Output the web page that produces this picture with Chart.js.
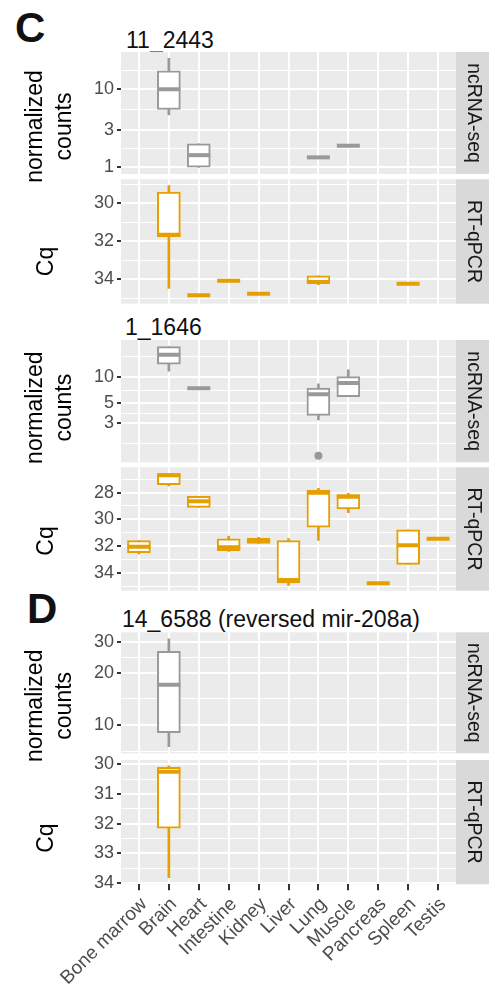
<!DOCTYPE html>
<html>
<head>
<meta charset="utf-8">
<script src="https://cdn.jsdelivr.net/npm/chart.js@4/dist/chart.umd.min.js"></script>
<style>
body { margin: 0; background: #fff; width: 489px; height: 984px; position: relative; overflow: hidden; font-family: "Liberation Sans", Arial, sans-serif; }
canvas { position: absolute; left: 0; }
.tag { position: absolute; font-weight: bold; font-size: 42px; line-height: 1; color: #111; }
.ttl { position: absolute; font-size: 23px; line-height: 1; color: #111; white-space: nowrap; }
</style>
</head>
<body>
<div class="tag" style="left:15px;top:7px">C</div>
<div class="tag" style="left:27px;top:588px">D</div>
<div class="ttl" style="left:126px;top:29px">11_2443</div>
<div class="ttl" style="left:125px;top:316px">1_1646</div>
<div class="ttl" style="left:122px;top:608px">14_6588 (reversed mir-208a)</div>
<canvas id="c1" width="489" height="166" style="top:30px"></canvas>
<canvas id="c2" width="489" height="169" style="top:157px"></canvas>
<canvas id="c3" width="489" height="166" style="top:318px"></canvas>
<canvas id="c4" width="489" height="168" style="top:445px"></canvas>
<canvas id="c5" width="489" height="165" style="top:610px"></canvas>
<canvas id="c6" width="489" height="246" style="top:738px"></canvas>
<script>
const tissues = ['Bone marrow', 'Brain', 'Heart', 'Intestine', 'Kidney', 'Liver',
                 'Lung', 'Muscle', 'Pancreas', 'Spleen', 'Testis'];

// 11_2443 ncRNA-seq
const p1Tissue = ['Brain', 'Heart', 'Lung', 'Muscle'];
const p1Min = [4.7, 1.0, 1.34, 1.89];
const p1Q1 = [5.5, 1.0, 1.34, 1.89];
const p1Med = [10, 1.43, 1.34, 1.89];
const p1Q3 = [17.2, 2.0, 1.34, 1.89];
const p1Max = [25, 2.0, 1.34, 1.89];
const p1Ticks = [1, 3, 10];
const p1Minor = [1.732, 5.477, 17.32];

// 11_2443 RT-qPCR
const p2Tissue = ['Brain', 'Heart', 'Intestine', 'Kidney', 'Lung', 'Spleen'];
const p2Min = [29.07, 34.86, 34.09, 34.77, 33.83, 34.25];
const p2Q1 = [29.41, 34.86, 34.09, 34.77, 33.83, 34.25];
const p2Med = [31.67, 34.86, 34.09, 34.77, 34.15, 34.25];
const p2Q3 = [31.77, 34.86, 34.09, 34.77, 34.18, 34.25];
const p2Max = [34.5, 34.86, 34.09, 34.77, 34.3, 34.25];
const p2Ticks = [30, 32, 34];
const p2Minor = [29, 31, 33, 35];

// 1_1646 ncRNA-seq
const p3Tissue = ['Brain', 'Heart', 'Lung', 'Muscle'];
const p3Min = [11.8, 7.5, 3.22, 5.97];
const p3Q1 = [14.2, 7.5, 3.65, 5.97];
const p3Med = [18.2, 7.5, 6.4, 8.6];
const p3Q3 = [22.6, 7.5, 7.5, 10.2];
const p3Max = [22.6, 7.5, 8.4, 12.2];
const p3OutTissue = ['Lung'];
const p3Out = [1.25];
const p3Ticks = [3, 5, 10];
const p3Minor = [1.732, 3.873, 7.071, 17.32];

// 1_1646 RT-qPCR
const p4Tissue = ['Bone marrow', 'Brain', 'Heart', 'Intestine', 'Kidney', 'Liver',
                  'Lung', 'Muscle', 'Pancreas', 'Spleen', 'Testis'];
const p4Min = [31.6, 26.57, 28.27, 31.25, 31.35, 31.45, 27.67, 28.05, 34.8, 30.78, 31.45];
const p4Q1 = [31.6, 26.57, 28.27, 31.47, 31.43, 31.6, 27.8, 28.15, 34.8, 30.78, 31.45];
const p4Med = [32.05, 26.7, 28.64, 32.1, 31.6, 34.55, 28.0, 28.3, 34.8, 31.95, 31.45];
const p4Q3 = [32.5, 27.4, 29.1, 32.35, 31.8, 34.77, 30.58, 29.22, 34.8, 33.38, 31.45];
const p4Max = [32.6, 27.5, 29.1, 32.4, 31.8, 34.95, 31.58, 29.5, 34.8, 33.38, 31.45];
const p4Ticks = [28, 30, 32, 34];
const p4Minor = [27, 29, 31, 33, 35];

// 14_6588 ncRNA-seq
const p5Tissue = ['Brain'];
const p5Min = [7.5];
const p5Q1 = [9.03];
const p5Med = [17.1];
const p5Q3 = [26.6];
const p5Max = [31.5];
const p5Ticks = [10, 20, 30];
const p5Minor = [7.071, 14.14, 24.49];

// 14_6588 RT-qPCR
const p6Tissue = ['Brain'];
const p6Min = [30.05];
const p6Q1 = [30.1];
const p6Med = [30.25];
const p6Q3 = [32.15];
const p6Max = [33.83];
const p6Ticks = [30, 31, 32, 33, 34];
const p6Minor = [30.5, 31.5, 32.5, 33.5];

const GREY = '#999999';
const ORANGE = '#E69F00';
const FONT = '"Liberation Sans", Arial, sans-serif';

// panel background, facet strip and y title
const decor = {
  id: 'decor',
  beforeDraw(chart, args, o) {
    const {ctx, chartArea: a} = chart;
    ctx.save();
    ctx.fillStyle = '#EBEBEB';
    ctx.fillRect(a.left, a.top, a.width, a.height);
    ctx.restore();
  },
  afterDraw(chart, args, o) {
    const {ctx, chartArea: a} = chart;
    const mid = (a.top + a.bottom) / 2;
    ctx.save();
    ctx.fillStyle = '#D9D9D9';
    ctx.fillRect(a.right, a.top, chart.width - a.right, a.height);
    ctx.fillStyle = '#1A1A1A';
    ctx.font = '19.5px ' + FONT;
    ctx.textAlign = 'center';
    ctx.textBaseline = 'middle';
    ctx.translate(a.right + 17, mid);
    ctx.rotate(Math.PI / 2);
    ctx.fillText(o.strip, 0, 0);
    ctx.restore();

    ctx.save();
    ctx.fillStyle = '#000';
    ctx.font = '23px ' + FONT;
    ctx.textAlign = 'center';
    ctx.textBaseline = 'middle';
    o.title.forEach((t, i) => {
      ctx.save();
      ctx.translate(o.titleX[i], mid + o.titleDy);
      ctx.rotate(-Math.PI / 2);
      ctx.fillText(t, 0, 0);
      ctx.restore();
    });
    ctx.restore();
  }
};

function boxPanel(id, p) {
  const xs = p.tissue.map(t => tissues.indexOf(t));
  const pts = arr => xs.map((x, i) => ({x: x, y: arr[i]}));
  const span = (lo, hi) => xs.map((x, i) => ({x: x, y: [lo[i], hi[i]]}));

  const datasets = [
    {type: 'bar', data: span(p.min, p.max), backgroundColor: p.color, borderWidth: 0,
     barThickness: 2, grouped: false, order: 2},
    {type: 'bar', data: span(p.q1, p.q3), backgroundColor: '#fff', borderColor: p.color,
     borderWidth: 2, borderSkipped: false, barThickness: 23, grouped: false, order: 1},
    {type: 'scatter', data: pts(p.med), pointStyle: 'line', pointRadius: 11.5,
     borderColor: p.color, borderWidth: 4, order: 0}
  ];
  if (p.outTissue) {
    datasets.push({type: 'scatter', order: 0,
      data: p.outTissue.map((t, i) => ({x: tissues.indexOf(t), y: p.out[i]})),
      pointRadius: 4, backgroundColor: p.color, borderWidth: 0});
  }

  new Chart(document.getElementById(id), {
    type: 'bar',
    data: {datasets: datasets},
    plugins: [decor],
    options: {
      responsive: false,
      animation: false,
      events: [],
      layout: {padding: {top: p.padTop, right: 33, left: 0, bottom: 0}},
      plugins: {
        legend: {display: false},
        tooltip: {enabled: false},
        decor: {strip: p.strip, title: p.title, titleX: p.titleX, titleDy: p.titleDy}
      },
      scales: {
        x: {
          type: 'linear', min: -0.6, max: 10.6, offset: false,
          afterBuildTicks: s => { s.ticks = tissues.map((t, i) => ({value: i})); },
          afterFit: s => { s.height = p.padBottom; },
          ticks: {display: !!p.showX, autoSkip: false, minRotation: 45, maxRotation: 45,
                  padding: 3, labelOffset: 5, color: '#4D4D4D', font: {family: FONT, size: 19},
                  callback: v => tissues[v]},
          grid: {color: '#fff', lineWidth: 2, offset: false, drawTicks: !!p.showX,
                 tickLength: 6, tickWidth: 2, tickColor: '#333'},
          border: {display: false}
        },
        y: {
          type: p.log ? 'logarithmic' : 'linear',
          min: p.yMin, max: p.yMax, reverse: !!p.reverse, beginAtZero: false,
          afterBuildTicks: s => {
            s.ticks = p.ticks.map(v => ({value: v}))
              .concat(p.minor.map(v => ({value: v, minor: true})));
          },
          afterFit: s => { s.width = 121; },
          ticks: {autoSkip: false, padding: 3, color: '#4D4D4D', font: {family: FONT, size: 18},
                  callback: (v, i, t) => t[i].minor ? '' : String(v)},
          grid: {color: '#fff',
                 lineWidth: c => (c.tick && c.tick.minor) ? 1 : 2,
                 tickColor: c => (c.tick && c.tick.minor) ? 'rgba(0,0,0,0)' : '#333',
                 tickLength: 4, tickWidth: 2},
          border: {display: false}
        }
      }
    }
  });
}

const seqTitle = ['normalized', 'counts'];
const seqTitleX = [36, 65];

boxPanel('c1', {tissue: p1Tissue, min: p1Min, q1: p1Q1, med: p1Med, q3: p1Q3, max: p1Max,
  ticks: p1Ticks, minor: p1Minor, log: true, yMin: 0.82, yMax: 30.06, color: GREY,
  strip: 'ncRNA-seq', title: seqTitle, titleX: seqTitleX, titleDy: 13.5,
  padTop: 22, padBottom: 22});

boxPanel('c2', {tissue: p2Tissue, min: p2Min, q1: p2Q1, med: p2Med, q3: p2Q3, max: p2Max,
  ticks: p2Ticks, minor: p2Minor, reverse: true, yMin: 28.74, yMax: 35.3, color: ORANGE,
  strip: 'RT-qPCR', title: ['Cq'], titleX: [46.5], titleDy: 20,
  padTop: 22.3, padBottom: 22.3});

boxPanel('c3', {tissue: p3Tissue, min: p3Min, q1: p3Q1, med: p3Med, q3: p3Q3, max: p3Max,
  outTissue: p3OutTissue, out: p3Out,
  ticks: p3Ticks, minor: p3Minor, log: true, yMin: 1.05, yMax: 26.9, color: GREY,
  strip: 'ncRNA-seq', title: seqTitle, titleX: seqTitleX, titleDy: 6.5,
  padTop: 22, padBottom: 21.7});

boxPanel('c4', {tissue: p4Tissue, min: p4Min, q1: p4Q1, med: p4Med, q3: p4Q3, max: p4Max,
  ticks: p4Ticks, minor: p4Minor, reverse: true, yMin: 26.1, yMax: 35.35, color: ORANGE,
  strip: 'RT-qPCR', title: ['Cq'], titleX: [46.5], titleDy: 12,
  padTop: 22.3, padBottom: 22.3});

boxPanel('c5', {tissue: p5Tissue, min: p5Min, q1: p5Q1, med: p5Med, q3: p5Q3, max: p5Max,
  ticks: p5Ticks, minor: p5Minor, log: true, yMin: 6.87, yMax: 34.3, color: GREY,
  strip: 'ncRNA-seq', title: seqTitle, titleX: seqTitleX, titleDy: 13,
  padTop: 22.3, padBottom: 21.7});

boxPanel('c6', {tissue: p6Tissue, min: p6Min, q1: p6Q1, med: p6Med, q3: p6Q3, max: p6Max,
  ticks: p6Ticks, minor: p6Minor, reverse: true, yMin: 29.85, yMax: 34.05, color: ORANGE,
  strip: 'RT-qPCR', title: ['Cq'], titleX: [46.5], titleDy: 16,
  padTop: 22, padBottom: 99.7, showX: true});
</script>
</body>
</html>
